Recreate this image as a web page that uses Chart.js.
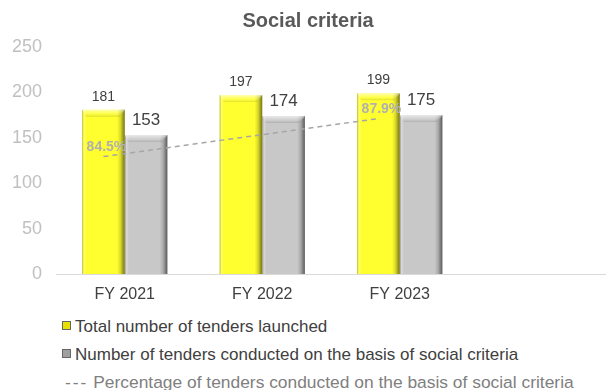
<!DOCTYPE html>
<html>
<head>
<meta charset="utf-8">
<script src="https://cdn.jsdelivr.net/npm/chart.js@4.4.1/dist/chart.umd.min.js"></script>
<style>
    html, body { margin: 0; padding: 0; background: #fff; }
    #wrap { position: relative; width: 606px; height: 390px; font-family: 'Liberation Sans', Arial, sans-serif; }
    #title { position: absolute; left: 0; top: 8px; width: 616px; text-align: center; font-weight: bold; font-size: 20px; line-height: 24px; color: #595959; }
    #chartBox { position: absolute; left: 0; top: 0; width: 606px; height: 312px; }
    .leg { position: absolute; font-size: 17px; color: #404040; white-space: nowrap; line-height: 20px; }
    .leg .box { display: inline-block; width: 7px; height: 7px; margin-right: 4px; vertical-align: 2px; border: 1px solid #666; }
</style>
</head>
<body>
<div id="wrap">
    <div id="chartBox"><canvas id="myChart"></canvas></div>
    <div id="title">Social criteria</div>
    <div class="leg" style="left:62px; top:317px;"><span class="box" style="background:#e8e000;"></span>Total number of tenders launched</div>
    <div class="leg" style="left:62px; top:345px;"><span class="box" style="background:#a0a0a0;"></span>Number of tenders conducted on the basis of social criteria</div>
    <div class="leg" style="left:65px; top:372px; color:#808080; font-size:17.4px;"><span style="letter-spacing:2px;">---</span> Percentage of tenders conducted on the basis of social criteria</div>
</div>
<script>
    'use strict';

    var categories = ['FY 2021', 'FY 2022', 'FY 2023', ''];
    var totalTenders = [181, 197, 199, null];
    var socialTenders = [153, 174, 175, null];
    // only FY 2021 and FY 2023 are labelled on the dashed line
    var percentValues = [84.5, null, 87.9, null];

    // the dashed line runs through the middle of the yellow bars
    function lineShift(chart) {
        var bars = chart.getDatasetMeta(1).data;
        return bars.length ? -bars[0].width / 2 : 0;
    }

    var shiftPlugin = {
        id: 'lineShift',
        beforeDatasetDraw: function (chart, args) {
            if (args.meta.type !== 'line') return;
            chart.ctx.save();
            chart.ctx.translate(lineShift(chart), 0);
        },
        afterDatasetDraw: function (chart, args) {
            if (args.meta.type !== 'line') return;
            chart.ctx.restore();
        }
    };

    // bevel look on the bars
    var bevelPlugin = {
        id: 'bevel',
        afterDatasetDraw: function (chart, args) {
            var meta = args.meta;
            if (meta.type !== 'bar') return;
            var ctx = chart.ctx;
            ctx.save();
            meta.data.forEach(function (bar, i) {
                if (chart.data.datasets[args.index].data[i] == null) return;
                var l = bar.x - bar.width / 2, r = bar.x + bar.width / 2;
                var t = bar.y, b = bar.base;
                var g = ctx.createLinearGradient(l, 0, r, 0);
                g.addColorStop(0, 'rgba(0,0,0,0.25)');
                g.addColorStop(0.04, 'rgba(255,255,255,0.3)');
                g.addColorStop(0.1, 'rgba(255,255,255,0)');
                g.addColorStop(0.82, 'rgba(0,0,0,0)');
                g.addColorStop(0.9, 'rgba(0,0,0,0.15)');
                g.addColorStop(1, 'rgba(0,0,0,0.55)');
                ctx.fillStyle = g;
                ctx.fillRect(l, t, r - l, b - t);
                var gt = ctx.createLinearGradient(0, t, 0, t + 7);
                gt.addColorStop(0, 'rgba(255,255,255,0.6)');
                gt.addColorStop(0.6, 'rgba(255,255,255,0.1)');
                gt.addColorStop(1, 'rgba(0,0,0,0.12)');
                ctx.fillStyle = gt;
                ctx.beginPath();
                ctx.moveTo(l, t);
                ctx.lineTo(r, t);
                ctx.lineTo(r - 5, t + 7);
                ctx.lineTo(l + 4, t + 7);
                ctx.closePath();
                ctx.fill();
            });
            ctx.restore();
        }
    };

    var labelsPlugin = {
        id: 'valueLabels',
        afterDatasetsDraw: function (chart) {
            var ctx = chart.ctx;
            var dx = lineShift(chart);
            ctx.save();
            ctx.textAlign = 'center';
            ctx.textBaseline = 'bottom';
            chart.data.datasets.forEach(function (ds, di) {
                var meta = chart.getDatasetMeta(di);
                meta.data.forEach(function (el, i) {
                    var v = ds.data[i];
                    if (v == null) return;
                    if (ds.type === 'line') {
                        ctx.font = 'bold 14px "Liberation Sans", Arial, sans-serif';
                        ctx.fillStyle = '#b0b0b0';
                        ctx.fillText(v.toFixed(1) + '%', el.x + dx + 3, el.y - 2);
                    } else {
                        ctx.font = (di === 1 ? '14px' : '17px') + ' "Liberation Sans", Arial, sans-serif';
                        ctx.fillStyle = '#404040';
                        ctx.fillText(v, el.x, el.y - 6);
                    }
                });
            });
            ctx.restore();
        }
    };

    var chartCtx = document.getElementById('myChart').getContext('2d');
    var myChart = new Chart(chartCtx, {
        type: 'bar',
        data: {
            labels: categories,
            datasets: [{
                type: 'line',
                label: 'Percentage of tenders conducted on the basis of social criteria',
                data: percentValues,
                yAxisID: 'y2',
                spanGaps: true,
                borderColor: '#a6a6a6',
                borderWidth: 1.5,
                borderDash: [5, 4],
                pointRadius: 0,
                order: 0
            }, {
                label: 'Total number of tenders launched',
                data: totalTenders,
                backgroundColor: '#ffff30',
                categoryPercentage: 0.62,
                barPercentage: 1,
                order: 1
            }, {
                label: 'Number of tenders conducted on the basis of social criteria',
                data: socialTenders,
                backgroundColor: '#c8c8c8',
                categoryPercentage: 0.62,
                barPercentage: 1,
                order: 1
            }]
        },
        options: {
            responsive: true,
            maintainAspectRatio: false,
            animation: false,
            layout: { padding: { top: 47, left: 10, right: 0, bottom: 4 } },
            plugins: {
                legend: { display: false },
                tooltip: { enabled: false }
            },
            scales: {
                x: {
                    afterFit: function (axis) { axis.height = 34; },
                    grid: { display: false },
                    border: { display: true, color: '#d9d9d9', width: 1 },
                    ticks: {
                        color: '#404040',
                        font: { size: 16, family: '"Liberation Sans", Arial, sans-serif' },
                        padding: 3,
                        maxRotation: 0
                    }
                },
                y: {
                    min: 0,
                    max: 250,
                    afterFit: function (axis) { axis.width = 46; },
                    grid: { display: false },
                    border: { display: false },
                    ticks: {
                        stepSize: 50,
                        color: '#c0c0c0',
                        padding: 6,
                        font: { size: 18, family: '"Liberation Sans", Arial, sans-serif' }
                    }
                },
                y2: {
                    display: false,
                    min: 74,
                    max: 94.3
                }
            }
        },
        plugins: [shiftPlugin, bevelPlugin, labelsPlugin]
    });
</script>
</body>
</html>
